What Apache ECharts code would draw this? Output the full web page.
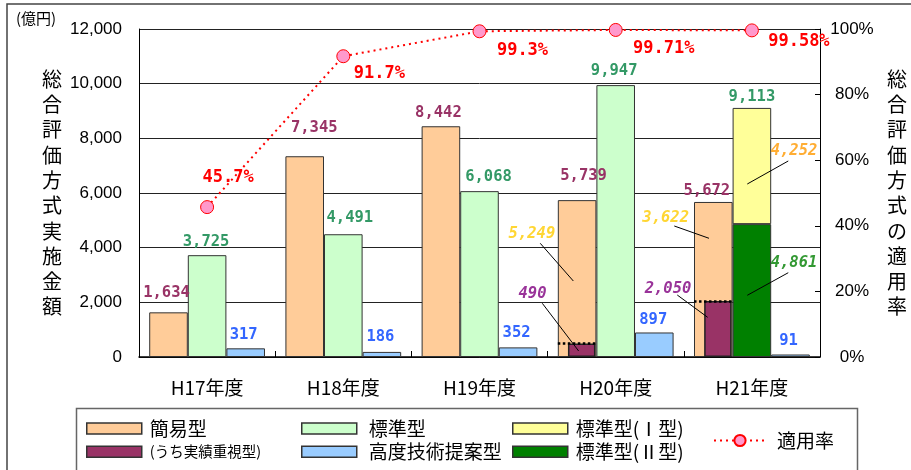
<!DOCTYPE html>
<html>
<head>
<meta charset="UTF-8">
<title>総合評価方式実施金額と適用率</title>
<script src="https://cdn.jsdelivr.net/npm/echarts@6/dist/echarts.min.js"></script>
<style>
  html, body { margin: 0; padding: 0; background: #fff; }
  #main { width: 911px; height: 470px; }
</style>
</head>
<body>
<div id="main"></div>
<script>
// 年度
var years = ['H17年度', 'H18年度', 'H19年度', 'H20年度', 'H21年度'];
// 実施金額（億円）
var kan  = [1634, 7345, 8442, 5739, 5672];      // 簡易型
var uchi = [null, null, null, 490, 2050];       // うち実績重視型
var hyo  = [3725, 4491, 6068, 9947, null];      // 標準型
var hyo1 = [null, null, null, null, 4252];      // 標準型(Ⅰ型)
var hyo2 = [null, null, null, null, 4861];      // 標準型(Ⅱ型)
var kodo = [317, 186, 352, 897, 91];            // 高度技術提案型
// 適用率（%）
var rate = [45.7, 91.7, 99.3, 99.71, 99.58];
// 目盛
var yTicks = [0, 2000, 4000, 6000, 8000, 10000, 12000];
var rTicks = [0, 20, 40, 60, 80, 100];

// ラベルのずれ（px）
var kanShift  = [[-2, -6], [9.5, -15], [-2.5, 0], [6.5, -11], [-6.5, 2]];
var hyoShift  = [[-1, 0], [6.5, -3], [9, -1], [-1.5, -1], [0, 0]];
var kodoShift = [[-2, 0], [-1.5, -2], [-1.5, -1], [-1, 0], [-2, -1]];
var rateShift = [[21, -30], [36, 17], [43, 19], [48, 19], [47, 11]];

// 棒の中の内訳（x: 年度番号, y: 億円）
var notes = [
  { v: kan[3] - uchi[3], color: '#FFCC00', at: [2.385, 4500], line: [[2.446, 4160], [2.689, 2780]] },
  { v: uchi[3],          color: '#800080', at: [2.389, 2305], line: [[2.461, 1965], [2.728, 220]] },
  { v: kan[4] - uchi[4], color: '#FFCC00', at: [3.367, 5096], line: [[3.430, 4793], [3.685, 4343]] },
  { v: uchi[4],          color: '#800080', at: [3.384, 2488], line: [[3.452, 2268], [3.675, 1452]] },
  { v: hyo1[4],          color: '#FF9900', at: [4.309, 7537], line: [[4.267, 7171], [3.966, 6329]] },
  { v: hyo2[4],          color: '#008000', at: [4.309, 3428], line: [[4.267, 3084], [3.966, 2257]] }
];

var CJK = '"Noto Sans CJK JP", sans-serif';
var NUM = '"Liberation Sans", Arial, sans-serif';
var MONO = '"DejaVu Sans Mono", monospace';

function fmt(n) {
  return String(n).replace(/\B(?=(\d{3})+(?!\d))/g, ',');
}

function withShift(vals, shift) {
  return vals.map(function (v, i) {
    if (v == null) return null;
    return { value: v, label: { offset: shift[i] } };
  });
}

var valLabel = function (color) {
  return {
    show: true, position: 'top', distance: 5,
    color: color, fontFamily: MONO, fontWeight: 'bold', fontSize: 15.5,
    formatter: function (p) { return fmt(p.value); }
  };
};

var barBorder = { borderColor: '#333', borderWidth: 1 };

// 簡易型の棒の幅（カテゴリ幅比）
var gap = 0.15, slot = (1 - gap) / 3;
var dotted = [];
uchi.forEach(function (v, i) {
  if (v == null) return;
  var x0 = i - (1 - gap) / 2;
  dotted.push([
    { coord: [x0, v], lineStyle: { type: 'dotted', width: 2.5, color: '#000' } },
    { coord: [x0 + slot, v] }
  ]);
});
var leaders = notes.map(function (n) {
  return [{ coord: n.line[0] }, { coord: n.line[1] }];
});

// 凡例（1項目ずつ）
function legendText(size, padLeft) {
  return { fontFamily: CJK, fontSize: size, lineHeight: 20, color: '#000', padding: [0, 0, 0, padLeft] };
}
function legendItem(name, left, top, extra) {
  return Object.assign({
    left: left, top: top, padding: 0, icon: 'rect', itemWidth: 55, itemHeight: 11, selectedMode: false,
    itemStyle: { borderColor: '#333', borderWidth: 1.5 },
    textStyle: legendText(19, 3),
    data: [name]
  }, extra || {});
}

var myChart = echarts.init(document.getElementById('main'));

var option = {
  animation: false,
  title: {
    text: '(億円)', left: 16, top: 11, padding: 0,
    textStyle: { fontSize: 15, fontWeight: 'normal', fontFamily: CJK, color: '#000' }
  },
  grid: { left: 139, right: 91, top: 29, bottom: 113, containLabel: false, outerBoundsMode: 'none' },
  legend: [
    legendItem('簡易型', 86, 418.5),
    legendItem('(うち実績重視型)', 86, 441.7, { textStyle: legendText(14.5, 3) }),
    legendItem('標準型', 301, 418.5, { textStyle: legendText(19, 7) }),
    legendItem('高度技術提案型', 301, 441.7, { textStyle: legendText(19, 7) }),
    legendItem('標準型(Ⅰ型)', 512, 418.5),
    legendItem('標準型(Ⅱ型)', 512, 441.7),
    legendItem('適用率', 713, 430.5, {
      icon: null, itemWidth: 52, itemHeight: 14, itemStyle: {},
      textStyle: legendText(19, 6)
    })
  ],
  graphic: [
    { type: 'rect', silent: true, z: -10, shape: { x: 7, y: 4, width: 1000, height: 600 },
      style: { fill: 'none', stroke: '#444', lineWidth: 1.5 } },
    { type: 'rect', silent: true, z: -10, shape: { x: 76.5, y: 408.5, width: 781, height: 200 },
      style: { fill: 'none', stroke: '#666', lineWidth: 1.5 } }
  ],
  xAxis: [
    {
      type: 'category', data: years,
      axisLine: { lineStyle: { color: '#000', width: 1.5 } },
      axisTick: { show: true, inside: true, length: 6, lineStyle: { color: '#000' } },
      axisLabel: { margin: 21, fontFamily: CJK, fontSize: 19, color: '#000' }
    },
    { type: 'category', data: years, show: false },
    { type: 'value', min: -0.5, max: 4.5, show: false }
  ],
  yAxis: [
    {
      type: 'value', min: yTicks[0], max: yTicks[yTicks.length - 1], interval: yTicks[1] - yTicks[0],
      name: '総合評価方式実施金額'.split('').join('\n'),
      nameLocation: 'middle', nameRotate: 0, nameGap: 77, nameMoveOverlap: false,
      nameTextStyle: { fontFamily: CJK, fontSize: 20, lineHeight: 25.3, color: '#000' },
      axisLine: { show: true, onZero: false, lineStyle: { color: '#000' } },
      axisTick: { show: false },
      splitLine: { lineStyle: { color: '#222', width: 1 } },
      axisLabel: {
        margin: 17, fontFamily: NUM, fontSize: 17, color: '#000', padding: [6, 0, 0, 0],
        formatter: function (v) { return fmt(v); }
      }
    },
    {
      type: 'value', min: rTicks[0], max: rTicks[rTicks.length - 1], interval: rTicks[1] - rTicks[0],
      name: '総合評価方式の適用率'.split('').join('\n'),
      nameLocation: 'middle', nameRotate: 0, nameGap: 67, nameMoveOverlap: false,
      nameTextStyle: { fontFamily: CJK, fontSize: 20, lineHeight: 25.3, color: '#000' },
      axisLine: { show: true, onZero: false, lineStyle: { color: '#000' } },
      axisTick: { show: true, inside: true, length: 5, lineStyle: { color: '#000' } },
      splitLine: { show: false },
      axisLabel: {
        margin: 32, align: 'center', fontFamily: NUM, fontSize: 17, color: '#000', padding: [6, 0, 0, 0],
        formatter: '{value}%'
      }
    }
  ],
  series: [
    {
      name: '簡易型', type: 'bar', xAxisIndex: 0, yAxisIndex: 0,
      barGap: 0, barCategoryGap: '15%',
      itemStyle: Object.assign({ color: '#FFCC99' }, barBorder),
      label: valLabel('#993366'),
      data: withShift(kan, kanShift)
    },
    {
      name: '標準型', type: 'bar', stack: 'hyo', xAxisIndex: 0, yAxisIndex: 0,
      barGap: 0, barCategoryGap: '15%',
      itemStyle: Object.assign({ color: '#CCFFCC' }, barBorder),
      label: valLabel('#339966'),
      data: withShift(hyo, hyoShift)
    },
    {
      name: '標準型(Ⅱ型)', type: 'bar', stack: 'hyo', xAxisIndex: 0, yAxisIndex: 0,
      barGap: 0, barCategoryGap: '15%',
      itemStyle: Object.assign({ color: '#008000' }, barBorder),
      data: hyo2
    },
    {
      name: '標準型(Ⅰ型)', type: 'bar', stack: 'hyo', xAxisIndex: 0, yAxisIndex: 0,
      barGap: 0, barCategoryGap: '15%',
      itemStyle: Object.assign({ color: '#FFFF99' }, barBorder),
      label: Object.assign(valLabel('#339966'), {
        distance: 3,
        formatter: function (p) { return fmt(hyo1[p.dataIndex] + hyo2[p.dataIndex]); }
      }),
      data: hyo1
    },
    {
      name: '高度技術提案型', type: 'bar', xAxisIndex: 0, yAxisIndex: 0,
      barGap: 0, barCategoryGap: '15%',
      itemStyle: Object.assign({ color: '#99CCFF' }, barBorder),
      label: valLabel('#3366FF'),
      data: withShift(kodo, kodoShift)
    },
    // うち実績重視型：簡易型の棒の中に細い棒
    {
      name: '(うち実績重視型)', type: 'bar', xAxisIndex: 1, yAxisIndex: 0,
      barGap: 0, barWidth: 27.5,
      itemStyle: { color: '#993366', borderColor: '#222', borderWidth: 1.5 },
      data: uchi
    },
    {
      name: '', type: 'bar', xAxisIndex: 1, yAxisIndex: 0, silent: true,
      barGap: 0, barWidth: 68,
      data: years.map(function () { return null; })
    },
    // 内訳の数値と引出線
    {
      type: 'scatter', xAxisIndex: 2, yAxisIndex: 0, symbolSize: 0, silent: true,
      label: {
        show: true, position: 'inside', fontFamily: MONO, fontWeight: 'bold', fontStyle: 'italic', fontSize: 15.5,
        formatter: function (p) { return p.name; }
      },
      data: notes.map(function (n) {
        return { name: fmt(n.v), value: n.at, label: { color: n.color } };
      }),
      markLine: {
        silent: true, symbol: ['none', 'none'], animation: false,
        label: { show: false },
        lineStyle: { color: '#000', width: 1, type: 'solid' },
        data: leaders.concat(dotted)
      }
    },
    {
      name: '適用率', type: 'line', xAxisIndex: 0, yAxisIndex: 1, z: 5,
      symbol: 'circle', symbolSize: 13,
      itemStyle: { color: '#FF99CC', borderColor: '#FF0000', borderWidth: 1 },
      lineStyle: { color: '#FF0000', width: 2, type: [2, 4] },
      label: {
        show: true, position: 'inside', color: '#FF0000', fontFamily: MONO, fontWeight: 'bold', fontSize: 17,
        formatter: function (p) { return p.value + '%'; }
      },
      data: rate.map(function (v, i) { return { value: v, label: { offset: rateShift[i] } }; })
    }
  ]
};

myChart.setOption(option);
</script>
</body>
</html>
